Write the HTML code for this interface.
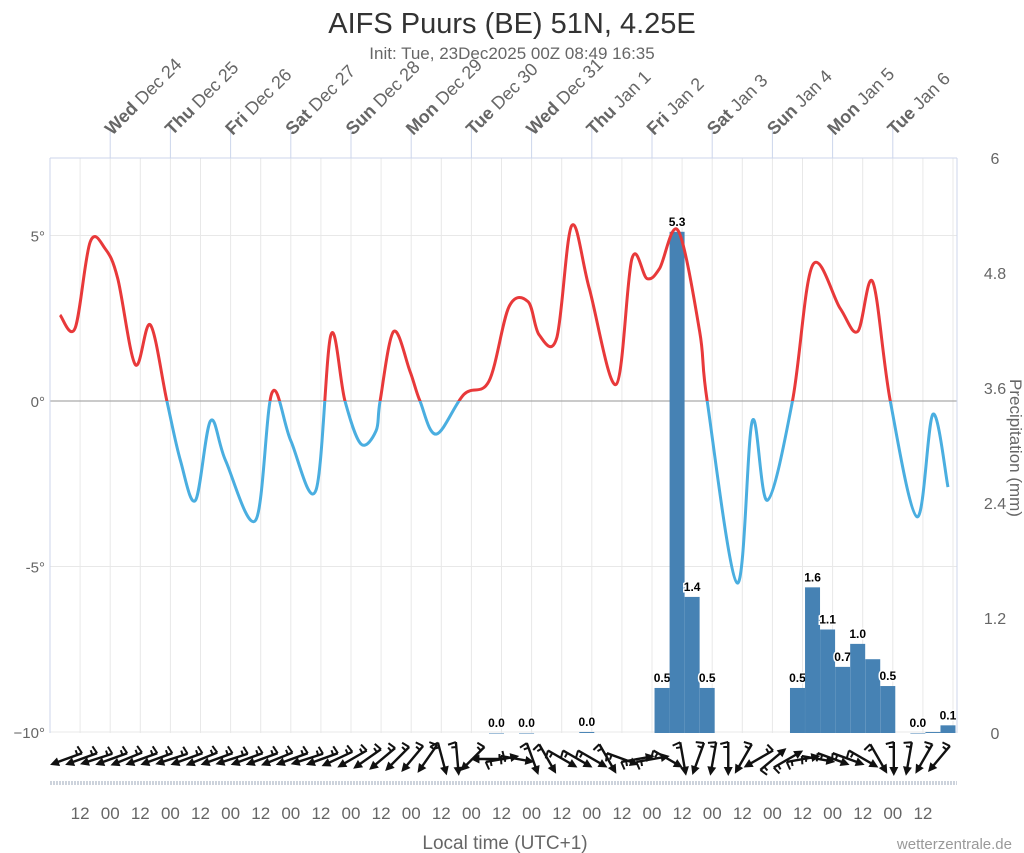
<!DOCTYPE html>
<html><head><meta charset="utf-8"><style>
body{margin:0;background:#fff;font-family:"Liberation Sans",sans-serif}
svg{display:block}
</style></head><body>
<svg id="c" width="1024" height="853" xmlns="http://www.w3.org/2000/svg">
<text x="512" y="33" text-anchor="middle" font-size="29" fill="#333">AIFS Puurs (BE) 51N, 4.25E</text>
<text x="512" y="59" text-anchor="middle" font-size="17" fill="#666">Init: Tue, 23Dec2025 00Z 08:49 16:35</text>
<g id="grid"></g>
<g id="bars"></g>
<g id="temp"></g>
<g id="wind"></g>
<g id="axes"></g>
<text x="505" y="849" text-anchor="middle" font-size="19" fill="#666">Local time (UTC+1)</text>
<text x="1012" y="849" text-anchor="end" font-size="15" fill="#999">wetterzentrale.de</text>
<text transform="translate(1010,448) rotate(90)" text-anchor="middle" font-size="17" fill="#666">Precipitation (mm)</text>
</svg>
<script>
const tempHours=[4,10,16,22,27,34,40,46.6,52,58,64,70,82,88.5,96,106,112,117.6,124,130,131.6,137,143.5,147.5,154,165,175,183,190.6,195,202,208,215,225.7,232,238,243,250.4,259,262,274,280,286,296,304,315,322,328,335,345.7,352,358];
const tempValues=[2.6,2.2,4.8,4.6,3.7,1.1,2.3,0,-1.8,-3.0,-0.6,-1.8,-3.6,0.25,-1.2,-2.7,2.0,0,-1.3,-0.9,0,2.1,0.9,0,-1.0,0.2,0.6,2.85,3.0,2.0,1.9,5.3,3.4,0.5,4.3,3.7,4.0,5.15,2.1,0,-5.5,-0.6,-3.0,0,4.1,2.8,2.1,3.6,0,-3.5,-0.4,-2.6];
const precipHours=[178,190,214,244,250,256,262,298,304,310,316,322,328,334,346,352,358];
const precipValues=[0.0,0.0,0.01,0.47,5.23,1.42,0.47,0.47,1.52,1.08,0.69,0.93,0.77,0.49,0.0,0.01,0.08];
const precipLabels=["0.0","0.0","0.0","0.5","5.3","1.4","0.5","0.5","1.6","1.1","0.7","1.0","","0.5","0.0","","0.1"];
const windDirs=[70,70,72,70,68,70,70,72,70,68,70,72,70,70,68,70,72,70,65,60,55,50,45,40,35,345,355,45,90,260,280,340,330,300,300,300,330,290,260,260,300,350,20,10,0,30,60,230,240,260,280,290,290,300,330,0,10,30,40];
const tempTicks=[5,0,-5,-10];
const tempTickLabels=["5°","0°","-5°","−10°"];
const precipTicks=[6,4.8,3.6,2.4,1.2,0];
const precipTickLabels=["6","4.8","3.6","2.4","1.2","0"];
const dayLabels=[["Wed","Dec 24"],["Thu","Dec 25"],["Fri","Dec 26"],["Sat","Dec 27"],["Sun","Dec 28"],["Mon","Dec 29"],["Tue","Dec 30"],["Wed","Dec 31"],["Thu","Jan 1"],["Fri","Jan 2"],["Sat","Jan 3"],["Sun","Jan 4"],["Mon","Jan 5"],["Tue","Jan 6"]];

const NS="http://www.w3.org/2000/svg";
const X0=50,X1=957,Y0=158,Y1=733;
const xH=h=>X0+h*60.2/24;
const yT=t=>401-t*33.1;
const yP=p=>Y1-p*(Y1-Y0)/6;
function mk(tag,attrs,parent){const e=document.createElementNS(NS,tag);for(const k in attrs)e.setAttribute(k,attrs[k]);parent.appendChild(e);return e;}
const grid=document.getElementById('grid'),bars=document.getElementById('bars'),temp=document.getElementById('temp'),wind=document.getElementById('wind'),axes=document.getElementById('axes');

for(let h=12;h<362;h+=12){const x=xH(h);const l=mk('line',{x1:x,y1:Y0,x2:x,y2:Y1,stroke:'#e8e8e8','stroke-width':1},grid);

}
tempTicks.forEach((t,i)=>{const y=yT(t);const l=mk('line',{x1:X0,y1:y,x2:X1,y2:y,stroke:t===0?'#aaa':'#e8e8e8','stroke-width':t===0?1.3:1},grid);


const tx=mk('text',{x:45,y:y+6,'text-anchor':'end','font-size':15,fill:'#666'},axes);tx.textContent=tempTickLabels[i];

});
precipTicks.forEach((p,i)=>{const tx=mk('text',{x:995,y:yP(p)+6,'text-anchor':'middle','font-size':16,fill:'#666'},axes);tx.textContent=precipTickLabels[i];

});
[[X0,Y0,X0,Y1],[X1,Y0,X1,Y1],[X0,Y0,X1,Y0]].forEach(c=>{const l=mk('line',{x1:c[0],y1:c[1],x2:c[2],y2:c[3],stroke:'#ccd6eb','stroke-width':1},axes);

});
dayLabels.forEach((d,i)=>{const x=xH(24*(i+1));const l=mk('line',{x1:x,y1:128,x2:x,y2:Y0,stroke:'#ccd6eb'},axes);


const t=mk('text',{transform:`translate(${x+2},${136}) rotate(-45)`,'font-size':18,fill:'#666'},axes);


const b=mk('tspan',{'font-weight':'bold'},t);b.textContent=d[0];const s=mk('tspan',{},t);s.textContent=' '+d[1];});
const band=mk('line',{x1:X0,y1:783,x2:X1,y2:783,stroke:'#cdd3dc','stroke-width':4,'stroke-dasharray':'2,1'},axes);


for(let h=12;h<358;h+=12){const t=mk('text',{x:xH(h),y:819,'text-anchor':'middle','font-size':17,fill:'#666'},axes);t.textContent=(h%24===0)?'00':'12';

}
precipHours.forEach((h,i)=>{const v=precipValues[i];const x=xH(h)-7.5,y=yP(v);
const r=mk('rect',{x:x,y:y,width:15,height:Math.max(Y1-y,0.5),fill:'#4682b4'},bars);


if(precipLabels[i]){const t=mk('text',{x:xH(h),y:y-6,'text-anchor':'middle','font-size':12,'font-weight':'bold',fill:'#000',stroke:'#fff','stroke-width':3,'paint-order':'stroke'},bars);t.textContent=precipLabels[i];

}});
const pts=tempHours.map((h,i)=>[xH(h),yT(tempValues[i])]);
let d=`M${pts[0][0]},${pts[0][1]}`;
for(let i=0;i<pts.length-1;i++){const p0=pts[Math.max(i-1,0)],p1=pts[i],p2=pts[i+1],p3=pts[Math.min(i+2,pts.length-1)];
d+=` C${p1[0]+(p2[0]-p0[0])/6},${p1[1]+(p2[1]-p0[1])/6} ${p2[0]-(p3[0]-p1[0])/6},${p2[1]-(p3[1]-p1[1])/6} ${p2[0]},${p2[1]}`;}
const defs=mk('defs',{},temp);
const ca=mk('clipPath',{id:'above'},defs);mk('rect',{x:0,y:0,width:1024,height:yT(0)},ca);
const cb=mk('clipPath',{id:'below'},defs);mk('rect',{x:0,y:yT(0),width:1024,height:500},cb);
const pa=mk('path',{d:d,fill:'none',stroke:'#e8393a','stroke-width':3,'clip-path':'url(#above)'},temp);


const pb=mk('path',{d:d,fill:'none',stroke:'#4aaee0','stroke-width':3,'clip-path':'url(#below)'},temp);


windDirs.forEach((dir,i)=>{const cx=xH(6*(i+1))+1,cy=759;const b=(dir+180)*Math.PI/180;const dx=Math.sin(b),dy=-Math.cos(b);const L=17;
const tx=cx-dx*L,ty=cy-dy*L,hx=cx+dx*L,hy=cy+dy*L;
const g=mk('g',{stroke:'#111','stroke-width':2.4,fill:'#111'},wind);


mk('line',{x1:tx,y1:ty,x2:hx-dx*3,y2:hy-dy*3},g);
const px=-dy,py=dx;
mk('polygon',{points:`${hx},${hy} ${hx-dx*9+px*4.5},${hy-dy*9+py*4.5} ${hx-dx*9-px*4.5},${hy-dy*9-py*4.5}`,stroke:'none'},g);
mk('line',{x1:tx,y1:ty,x2:tx+px*8+dx*2,y2:ty+py*8+dy*2,'stroke-width':2},g);
mk('line',{x1:tx+dx*5,y1:ty+dy*5,x2:tx+dx*5+px*5,y2:ty+dy*5+py*5,'stroke-width':2},g);});
</script>
</body></html>
